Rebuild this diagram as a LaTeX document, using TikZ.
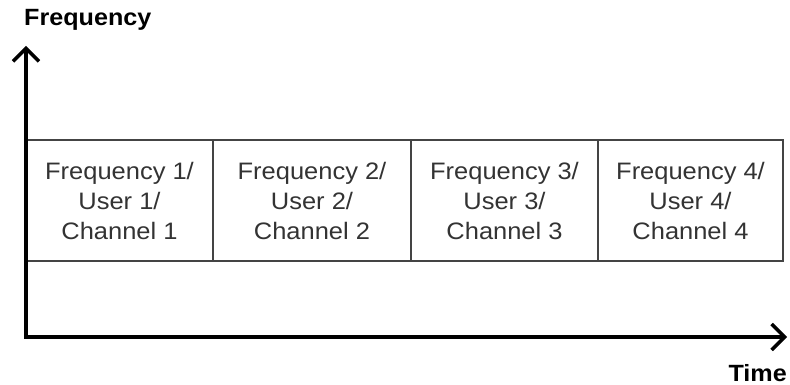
\documentclass[tikz,border=0pt]{standalone}
\usepackage{fontspec}
\setmainfont{Liberation Sans}[FakeStretch=1.07]
\usetikzlibrary{arrows.meta}
\definecolor{celltext}{HTML}{333333}
\definecolor{cellline}{HTML}{444444}
\begin{document}
\begin{tikzpicture}[x=1pt,y=-1pt,
  cell/.style={draw=cellline,line width=1.8pt,minimum height=121pt,inner sep=0pt,
    align=center,text=celltext,font=\fontsize{23.8}{30}\selectfont},
  axis/.style={line width=3.5pt,-{Straight Barb[length=13pt,width=26pt,line width=3.5pt]}},
  lbl/.style={font=\fontsize{23.5}{26}\selectfont\bfseries,text=black,inner sep=0pt}]
\useasboundingbox (0,0) rectangle (790,385);
\node[cell,minimum width=187pt] (c1) at (119.5,200.5) {Frequency 1/\\User 1/\\Channel 1};
\node[cell,minimum width=198pt] (c2) at (312,200.5) {Frequency 2/\\User 2/\\Channel 2};
\node[cell,minimum width=187pt] (c3) at (504.5,200.5) {Frequency 3/\\User 3/\\Channel 3};
\node[cell,minimum width=185pt] (c4) at (690.5,200.5) {Frequency 4/\\User 4/\\Channel 4};
\coordinate (o) at (26,337);
\coordinate (ytip) at (26,46);
\coordinate (xtip) at (787,337);
\draw[axis] ([yshift=1.75pt]o) -- (ytip);
\draw[axis] ([xshift=-1.75pt]o) -- (xtip);
\node[lbl,anchor=base west] (fl) at (24,26) {Frequency};
\node[lbl,anchor=base east] (tl) at (787,381) {Time};
\end{tikzpicture}
\end{document}
